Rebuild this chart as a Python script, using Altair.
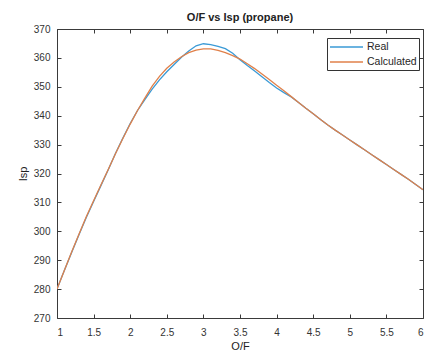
import altair as alt
import pandas as pd

of = [1.0, 1.1, 1.2, 1.3, 1.4, 1.5, 1.6, 1.7, 1.8, 1.9,
      2.0, 2.1, 2.2, 2.3, 2.4, 2.5, 2.6, 2.7, 2.8, 2.9,
      3.0, 3.1, 3.2, 3.3, 3.4, 3.5, 3.6, 3.7, 3.8, 3.9,
      4.0, 4.1, 4.2, 4.3, 4.4, 4.5, 4.6, 4.7, 4.8, 4.9,
      5.0, 5.1, 5.2, 5.3, 5.4, 5.5, 5.6, 5.7, 5.8, 5.9, 6.0]

isp_real = [280.0, 286.4, 292.7, 298.8, 304.8, 310.3, 315.8, 321.3, 327.0, 332.3,
            337.3, 341.8, 345.6, 349.2, 352.4, 355.2, 357.7, 360.2, 362.4, 364.2,
            364.9, 364.6, 364.0, 363.2, 361.6, 359.4, 357.4, 355.5, 353.5, 351.5,
            349.6, 348.0, 346.5, 344.6, 342.6, 340.7, 338.7, 336.8, 335.0, 333.3,
            331.6, 329.9, 328.2, 326.5, 324.8, 323.1, 321.4, 319.7, 318.0, 316.2, 314.4]

isp_calc = [280.0, 286.4, 292.8, 299.0, 305.0, 310.6, 316.0, 321.4, 326.9, 332.1,
            337.1, 341.8, 346.1, 350.2, 353.6, 356.4, 358.6, 360.4, 361.8, 362.7,
            363.1, 363.1, 362.6, 361.8, 360.8, 359.6, 358.0, 356.3, 354.4, 352.5,
            350.5, 348.6, 346.6, 344.6, 342.6, 340.7, 338.7, 336.8, 335.0, 333.3,
            331.6, 329.9, 328.2, 326.5, 324.8, 323.1, 321.4, 319.7, 318.0, 316.2, 314.4]

series = ["Real", "Calculated"]
colors = ["#3A9AD6", "#E0804A"]
x_ticks = [1, 1.5, 2, 2.5, 3, 3.5, 4, 4.5, 5, 5.5, 6]
y_ticks = [270, 280, 290, 300, 310, 320, 330, 340, 350, 360, 370]

df = pd.concat([
    pd.DataFrame({"O/F": of, "Isp": isp_real, "series": "Real"}),
    pd.DataFrame({"O/F": of, "Isp": isp_calc, "series": "Calculated"}),
])

FONT = "Liberation Sans"
AX = "#3a3a3a"
TS = 4

xs = alt.Scale(domain=[1, 6], nice=False, zero=False)
ys = alt.Scale(domain=[270, 370], nice=False, zero=False)

common_axis = dict(domain=False, tickSize=TS, tickColor=AX, tickWidth=1,
                   offset=-TS, grid=False)

lines = alt.Chart(df).mark_line(strokeWidth=1.3, clip=True).encode(
    x=alt.X("O/F:Q", scale=xs,
            axis=alt.Axis(values=x_ticks, format="~g", title="O/F", labelPadding=9,
                          titlePadding=3, **common_axis)),
    y=alt.Y("Isp:Q", scale=ys,
            axis=alt.Axis(values=y_ticks, title="Isp", labelPadding=7,
                          titlePadding=5, **common_axis)),
    color=alt.Color("series:N",
                    scale=alt.Scale(domain=series, range=colors),
                    sort=series,
                    legend=alt.Legend(title=None, orient="none",
                                      legendX=270, legendY=9,
                                      symbolType="M-1,0H4.5", symbolSize=144,
                                      symbolStrokeWidth=1.5,
                                      labelFontSize=10.5, labelFont=FONT,
                                      labelColor="#262626", labelOffset=24,
                                      rowPadding=2, padding=2,
                                      strokeColor="#333333", fillColor="white")),
    order=alt.Order("O/F:Q"),
)

frame = alt.Chart(df).mark_line(opacity=0).encode(
    x=alt.X("O/F:Q", scale=xs,
            axis=alt.Axis(orient="top", values=x_ticks, labels=False, title=None,
                          **common_axis)),
    y=alt.Y("Isp:Q", scale=ys,
            axis=alt.Axis(orient="right", values=y_ticks, labels=False, title=None,
                          **common_axis)),
    detail="series:N",
)

chart = alt.layer(lines, frame).resolve_axis(x="independent", y="independent").properties(
    width=366, height=289,
    title=alt.Title("O/F vs Isp (propane)", fontSize=11, fontWeight="bold",
                    font=FONT, color="#222222", offset=1),
    autosize=alt.AutoSizeParams(type="none"),
    padding={"left": 57, "top": 29, "right": 2, "bottom": 33},
    background="white",
).configure_view(stroke=AX, strokeWidth=1).configure_axis(
    labelFont=FONT, labelFontSize=10, labelColor="#333333",
    titleFont=FONT, titleFontSize=11, titleColor="#222222", titleFontWeight="normal",
)

chart.save("out.html", embed_options={"renderer": "svg", "actions": False})
